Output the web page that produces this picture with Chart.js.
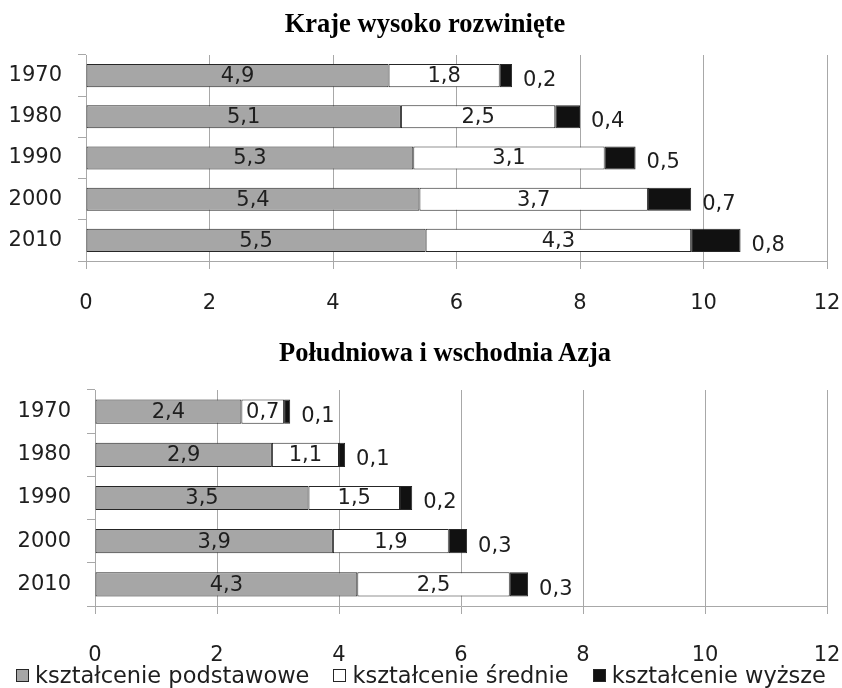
<!DOCTYPE html>
<html lang="pl">
<head>
    <meta charset="UTF-8">
    <title>Kształcenie - kraje wysoko rozwinięte i Azja</title>
    <script src="https://cdn.jsdelivr.net/npm/chart.js"></script>
    <style>
        body {
            margin: 0;
            background: #ffffff;
            width: 842px;
            height: 688px;
            position: relative;
            overflow: hidden;
        }

        canvas {
            position: absolute;
            left: 0;
        }

        .title {
            position: absolute;
            font-family: "Liberation Serif", "Times New Roman", serif;
            font-weight: bold;
            font-size: 26.5px;
            line-height: 1;
            color: #000;
            white-space: nowrap;
            transform: translateX(-50%);
        }

        /* legenda wspólna pod dolnym wykresem */
        #legend {
            position: absolute;
            left: 0;
            top: 662px;
            width: 842px;
            display: flex;
            justify-content: center;
            gap: 24px;
            font-family: "DejaVu Sans", sans-serif;
            font-size: 22.5px;
            line-height: 26px;
            color: #1e1e1e;
            white-space: nowrap;
        }

        #legend .item {
            display: flex;
            align-items: center;
            gap: 6px;
        }

        #legend .box {
            width: 11px;
            height: 11px;
            border: 1px solid #262626;
        }
    </style>
</head>
<body>

    <canvas id="chartTop" width="842" height="330" style="top:0"></canvas>
    <canvas id="chartBottom" width="842" height="358" style="top:330px"></canvas>

    <div class="title" style="left:425px; top:10px;">Kraje wysoko rozwinięte</div>
    <div class="title" style="left:445px; top:339px;">Południowa i wschodnia Azja</div>
    <div id="legend"></div>

    <script>
        // dane
        const years = ['1970', '1980', '1990', '2000', '2010'];
        const seriesNames = ['kształcenie podstawowe', 'kształcenie średnie', 'kształcenie wyższe'];
        const xTicks = [0, 2, 4, 6, 8, 10, 12];

        const devPrimary = [4.9, 5.1, 5.3, 5.4, 5.5];
        const devSecondary = [1.8, 2.5, 3.1, 3.7, 4.3];
        const devHigher = [0.2, 0.4, 0.5, 0.7, 0.8];

        const asiaPrimary = [2.4, 2.9, 3.5, 3.9, 4.3];
        const asiaSecondary = [0.7, 1.1, 1.5, 1.9, 2.5];
        const asiaHigher = [0.1, 0.1, 0.2, 0.3, 0.3];

        const colors = ['#a6a6a6', '#ffffff', '#111111'];
        const FONT = '"DejaVu Sans", sans-serif';
        const GRID = '#a8a8a8';
        const TEXT = '#1e1e1e';

        // etykiety wartości: w środku segmentu, ostatni segment z prawej strony
        const valueLabels = {
            id: 'valueLabels',
            afterDatasetsDraw(chart) {
                const ctx = chart.ctx;
                ctx.save();
                ctx.font = '21px ' + FONT;
                ctx.fillStyle = TEXT;
                ctx.textBaseline = 'middle';
                chart.data.datasets.forEach((ds, i) => {
                    chart.getDatasetMeta(i).data.forEach((bar, j) => {
                        const txt = String(ds.data[j]).replace('.', ',');
                        if (i < 2) {
                            ctx.textAlign = 'center';
                            ctx.fillText(txt, (bar.x + bar.base) / 2, bar.y + 1);
                        } else {
                            ctx.textAlign = 'left';
                            ctx.fillText(txt, bar.x + 11, bar.y + 5);
                        }
                    });
                });
                ctx.restore();
            }
        };

        function makeChart(id, primary, secondary, higher, cfg) {
            const datasets = [primary, secondary, higher].map((data, i) => ({
                label: seriesNames[i],
                data: data,
                backgroundColor: colors[i],
                borderColor: '#262626',
                borderWidth: 1,
                borderSkipped: false,
                barPercentage: 0.56,
                categoryPercentage: 1
            }));

            return new Chart(document.getElementById(id), {
                type: 'bar',
                data: { labels: years, datasets: datasets },
                options: {
                    indexAxis: 'y',
                    responsive: false,
                    animation: false,
                    layout: { padding: { top: cfg.top, right: 0, left: 0, bottom: 0 } },
                    plugins: {
                        title: { display: false },
                        tooltip: { enabled: false },
                        legend: { display: false }
                    },
                    scales: {
                        x: {
                            stacked: true,
                            min: 0,
                            max: 12,
                            afterBuildTicks: s => { s.ticks = xTicks.map(v => ({ value: v })); },
                            ticks: { color: TEXT, font: { family: FONT, size: 21 }, padding: cfg.xPad },
                            grid: { color: GRID, tickLength: 8 },
                            border: { color: GRID },
                            afterFit: s => {
                                s.height = cfg.xHeight;
                                s.paddingLeft = 0;
                                s.paddingRight = 15;
                            }
                        },
                        y: {
                            stacked: true,
                            ticks: { color: TEXT, font: { family: FONT, size: 21 }, padding: 16, autoSkip: false },
                            grid: { drawOnChartArea: false, color: GRID, tickLength: 8, offset: true },
                            border: { color: GRID },
                            afterFit: s => { s.width = cfg.yWidth; }
                        }
                    }
                },
                plugins: [valueLabels]
            });
        }

        makeChart('chartTop', devPrimary, devSecondary, devHigher,
            { top: 55, yWidth: 86, xHeight: 69, xPad: 22 });
        const bottomChart = makeChart('chartBottom', asiaPrimary, asiaSecondary, asiaHigher,
            { top: 60, yWidth: 95, xHeight: 82, xPad: 29 });

        // legenda z elementów legendy dolnego wykresu
        const legendEl = document.getElementById('legend');
        bottomChart.options.plugins.legend.labels.generateLabels(bottomChart).forEach(item => {
            const row = document.createElement('div');
            row.className = 'item';
            const box = document.createElement('span');
            box.className = 'box';
            box.style.background = item.fillStyle;
            const label = document.createElement('span');
            label.textContent = item.text;
            row.appendChild(box);
            row.appendChild(label);
            legendEl.appendChild(row);
        });
    </script>

</body>
</html>
